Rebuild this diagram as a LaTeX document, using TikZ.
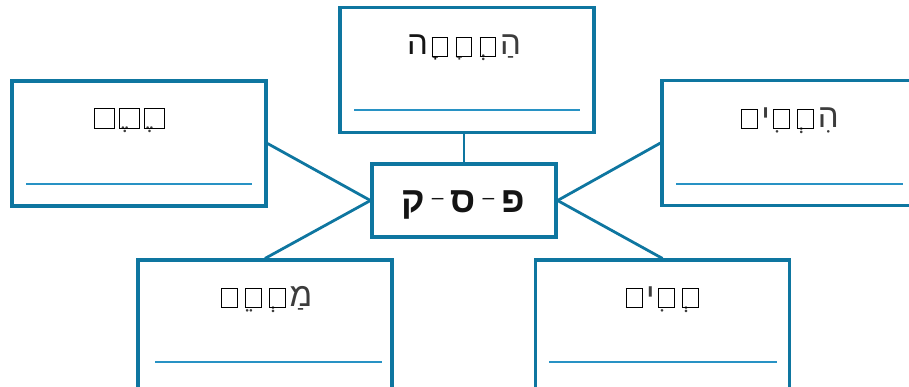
\documentclass[tikz,border=0pt]{standalone}
\usepackage{fontspec}
\TeXXeTstate=1
\newfontfamily\hebfont[Script=Hebrew]{Liberation Sans}
\definecolor{boxblue}{RGB}{14,118,160}
\definecolor{lineblue}{RGB}{40,146,196}
\definecolor{sqgray}{RGB}{60,60,60}
\definecolor{inkblack}{RGB}{20,20,20}
% an empty square outline: #1 width, #2 height
\newcommand\emptysq[2]{\vbox{\hrule height 1pt\hbox{\vrule width 1pt\vbox to \dimexpr#2-2pt\relax{\vss}\kern\dimexpr#1-2pt\relax\vrule width 1pt}\hrule height 1pt}}
% a slot: #1 slot width, #2 square width, #3 square height, #4 vowel mark
\newcommand\slot[4]{\hbox to #1{\rlap{\hbox to #1{\hss\lower2pt\hbox{\color{sqgray}\emptysq{#2}{#3}}\hss}}\hbox to #1{\hss\hbox{^^^^00a0#4}\hss}}}
\newcommand\sm[1]{\slot{24pt}{16.8pt}{19.8pt}{#1}}
\newcommand\bg[1]{\slot{24.7pt}{20.7pt}{20.7pt}{#1}}
\newcommand\rootdash{\kern7pt\raisebox{8pt}{\mdseries\fontsize{21pt}{24pt}\selectfont ^^^^2013}\kern7pt}
\tikzset{
  wordbox/.style={draw=boxblue, line width=3.1pt, fill=white, minimum width=254pt, minimum height=125pt, inner sep=0pt},
  lowbox/.style={wordbox, minimum height=134pt},
  rootbox/.style={draw=boxblue, line width=3.1pt, fill=white, minimum width=184pt, minimum height=73pt, inner sep=0pt},
  conn/.style={draw=boxblue, line width=2.8pt},
  answer/.style={draw=lineblue, line width=1.6pt},
  word/.style={anchor=base, inner sep=0pt, text=inkblack, font=\hebfont\fontsize{33pt}{38pt}\selectfont},
  rootword/.style={anchor=base, inner sep=0pt, text=inkblack, font=\hebfont\bfseries\fontsize{36pt}{42pt}\selectfont}
}
\begin{document}
\begin{tikzpicture}[x=1pt,y=-1pt]
\useasboundingbox (0,0) rectangle (909,386);
\clip (0,0) rectangle (909,386);
\node[wordbox] (T) at (467,70) {};
\node[wordbox] (L) at (139,143.5) {};
\node[wordbox] (R) at (789,143) {};
\node[lowbox] (BL) at (265,327) {};
\node[lowbox] (BR) at (662.5,327) {};
\node[rootbox] (C) at (464,200.5) {};
\draw[conn] (C.north) -- (C.north |- T.south);
\draw[conn] (L.east) -- (C.west);
\draw[conn] (BL.north) -- (C.west);
\draw[conn] (R.west) -- (C.east);
\draw[conn] (BR.north) -- (C.east);
% answer lines
\draw[answer] (354,110) -- (580,110);
\draw[answer] (26,184) -- (252,184);
\draw[answer] (676,184) -- (903,184);
\draw[answer] (155,362) -- (382,362);
\draw[answer] (549,362) -- (777,362);
% words
\node[word] (tT) at (464,54.5) {\beginR ^^^^05d4^^^^05b7\sm{^^^^05b0}\sm{^^^^05b8}\sm{^^^^05b8}^^^^05d4\endR};
\node[word] (tL) at (129.5,126.7) {\beginR\bg{^^^^05b6}\bg{^^^^05b6}\bg{}\endR};
\node[word] (tR) at (788,127) {\beginR ^^^^05d4^^^^05b4\sm{^^^^05b0}\sm{^^^^05b4}^^^^05d9\sm{}\endR};
\node[word] (tBL) at (265,306) {\beginR ^^^^05de^^^^05b7\sm{^^^^05b0}\sm{^^^^05b5}\sm{}\endR};
\node[word] (tBR) at (662.5,306) {\beginR\sm{^^^^05b0}\sm{^^^^05b4}^^^^05d9\sm{}\endR};
\node[rootword] (tC) at (463,212) {\beginR ^^^^05e4\rootdash ^^^^05e1\rootdash ^^^^05e7\endR};
\end{tikzpicture}
\end{document}
